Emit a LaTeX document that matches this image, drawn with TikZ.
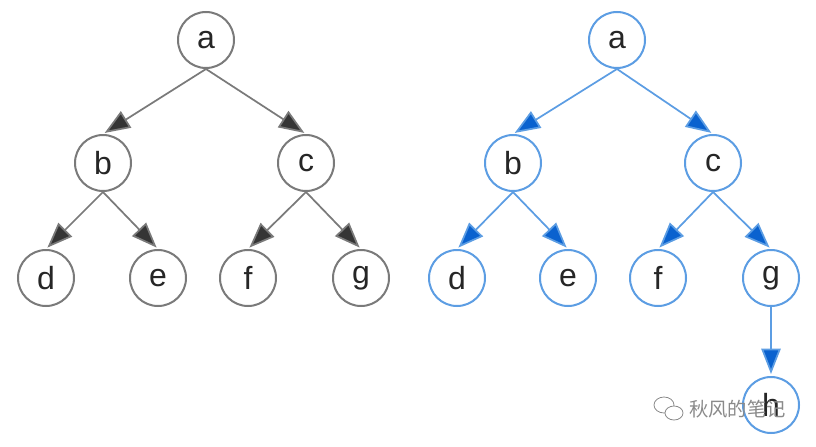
\documentclass[tikz,border=0pt]{standalone}
\usepackage{fontspec}
\setmainfont{Liberation Sans}
\newfontfamily\cjk{Noto Sans CJK SC}
\usetikzlibrary{arrows.meta}
\definecolor{greyline}{HTML}{7A7A7A}
\definecolor{greytip}{HTML}{353535}
\definecolor{blueline}{HTML}{5C9DE3}
\definecolor{bluetip}{HTML}{0A62CF}
\definecolor{markgrey}{HTML}{8A8A8A}
\begin{document}
\begin{tikzpicture}[x=0.75pt, y=-0.75pt,
    vert/.style={circle, draw, line width=1.5pt, minimum size=42pt, inner sep=0pt, fill=white,
        font=\fontsize{24}{24}\selectfont, text=black!85},
    greyvert/.style={vert, draw=greyline},
    bluevert/.style={vert, draw=blueline},
    greyedge/.style={draw=greyline, line width=1.3pt, shorten >=1.5pt,
        -{Triangle[length=19pt, width=14.5pt, fill=greytip]}},
    blueedge/.style={draw=blueline, line width=1.3pt, shorten >=1.5pt,
        -{Triangle[length=19pt, width=14.5pt, fill=bluetip]}}]
    \useasboundingbox (0,0) rectangle (816,446);
    % left tree
    \node[greyvert] (la) at (206,40) {a};
    \node[greyvert] (lb) at (103,163) {b};
    \node[greyvert] (lc) at (306,163) {c};
    \node[greyvert] (ld) at (46,278) {d};
    \node[greyvert] (le) at (158,278) {e};
    \node[greyvert] (lf) at (248,278) {f};
    \node[greyvert] (lg) at (361,278) {g};
    \draw[greyedge] (la.south) -- (lb.north);
    \draw[greyedge] (la.south) -- (lc.north);
    \draw[greyedge] (lb.south) -- (ld.north);
    \draw[greyedge] (lb.south) -- (le.north);
    \draw[greyedge] (lc.south) -- (lf.north);
    \draw[greyedge] (lc.south) -- (lg.north);
    % right tree
    \node[bluevert] (ra) at (617,40) {a};
    \node[bluevert] (rb) at (513,163) {b};
    \node[bluevert] (rc) at (713,163) {c};
    \node[bluevert] (rd) at (457,278) {d};
    \node[bluevert] (re) at (568,278) {e};
    \node[bluevert] (rf) at (658,278) {f};
    \node[bluevert] (rg) at (771,278) {g};
    \node[bluevert] (rh) at (771,405) {h};
    \draw[blueedge] (ra.south) -- (rb.north);
    \draw[blueedge] (ra.south) -- (rc.north);
    \draw[blueedge] (rb.south) -- (rd.north);
    \draw[blueedge] (rb.south) -- (re.north);
    \draw[blueedge] (rc.south) -- (rf.north);
    \draw[blueedge] (rc.south) -- (rg.north);
    \draw[blueedge] (rg.south) -- (rh.north);
    % watermark
    \draw[markgrey, line width=0.6pt, fill=white] (664,405) ellipse (10 and 8);
    \draw[markgrey, line width=0.6pt, fill=white] (674,413) ellipse (9 and 7);
    \node[anchor=west, inner sep=0pt, text=markgrey, font=\cjk\fontsize{14.5}{14.5}\selectfont] (mark) at (689,409) {秋风的笔记};
\end{tikzpicture}
\end{document}
